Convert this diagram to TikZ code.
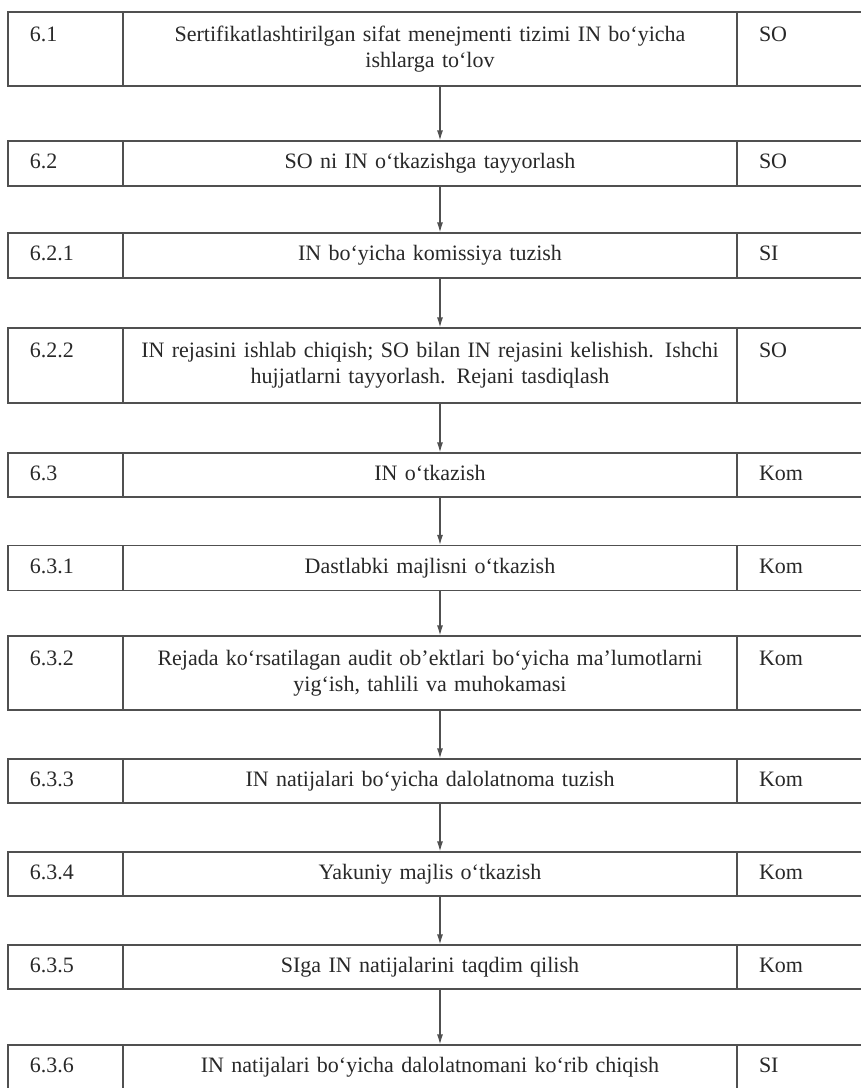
\documentclass[tikz,border=0pt]{standalone}
\usepackage{fontspec}
\setmainfont{Liberation Serif}
\usepackage{xcolor}
\usepackage{tikz}
\usetikzlibrary{arrows.meta}
\definecolor{rulegray}{RGB}{80,80,80}
\definecolor{inkgray}{RGB}{40,40,40}

\begin{document}
\begin{tikzpicture}[x=0.5pt, y=-0.5pt,
  cell/.style={rectangle, draw=rulegray, line width=0.6pt, inner ysep=0pt, text=inkgray, font=\fontsize{11}{13}\selectfont, execute at begin node=\strut, execute at end node=\strut},
  numcell/.style={cell, minimum width=57.5pt, text width=35.5pt, inner xsep=11pt, align=left},
  taskcell/.style={cell, minimum width=307pt, text width=295pt, inner xsep=6pt, align=center},
  whocell/.style={cell, minimum width=63pt, text width=41pt, inner xsep=10pt, align=left},
  flow/.style={-{Latex[length=5pt, width=3pt]}, draw=rulegray, line width=0.6pt}
]
\useasboundingbox (0,0) rectangle (861,1088);

\node[numcell, minimum height=37pt] (n61) at (65.5,49) {6.1\\};
\node[taskcell, minimum height=37pt] (s61) at (430,49) {Sertifikatlashtirilgan sifat menejmenti tizimi IN bo‘yicha\\ishlarga to‘lov};
\node[whocell, minimum height=37pt] (w61) at (800,49) {SO\\};

\node[numcell, minimum height=22.5pt] (n62) at (65.5,163.5) {6.2};
\node[taskcell, minimum height=22.5pt] (s62) at (430,163.5) {SO ni IN o‘tkazishga tayyorlash};
\node[whocell, minimum height=22.5pt] (w62) at (800,163.5) {SO};

\node[numcell, minimum height=22.5pt] (n621) at (65.5,255.5) {6.2.1};
\node[taskcell, minimum height=22.5pt] (s621) at (430,255.5) {IN bo‘yicha komissiya tuzish};
\node[whocell, minimum height=22.5pt] (w621) at (800,255.5) {SI};

\node[numcell, minimum height=37.5pt] (n622) at (65.5,365.5) {6.2.2\\};
\node[taskcell, minimum height=37.5pt] (s622) at (430,365.5) {IN rejasini ishlab chiqish; SO bilan IN rejasini kelishish. Ishchi\\hujjatlarni tayyorlash. Rejani tasdiqlash};
\node[whocell, minimum height=37.5pt] (w622) at (800,365.5) {SO\\};

\node[numcell, minimum height=22pt] (n63) at (65.5,475) {6.3};
\node[taskcell, minimum height=22pt] (s63) at (430,475) {IN o‘tkazish};
\node[whocell, minimum height=22pt] (w63) at (800,475) {Kom};

\node[numcell, minimum height=22.5pt] (n631) at (65.5,568) {6.3.1};
\node[taskcell, minimum height=22.5pt] (s631) at (430,568) {Dastlabki majlisni o‘tkazish};
\node[whocell, minimum height=22.5pt] (w631) at (800,568) {Kom};

\node[numcell, minimum height=37pt] (n632) at (65.5,673) {6.3.2\\};
\node[taskcell, minimum height=37pt] (s632) at (430,673) {Rejada ko‘rsatilagan audit ob’ektlari bo‘yicha ma’lumotlarni\\yig‘ish, tahlili va muhokamasi};
\node[whocell, minimum height=37pt] (w632) at (800,673) {Kom\\};

\node[numcell, minimum height=22pt] (n633) at (65.5,781) {6.3.3};
\node[taskcell, minimum height=22pt] (s633) at (430,781) {IN natijalari bo‘yicha dalolatnoma tuzish};
\node[whocell, minimum height=22pt] (w633) at (800,781) {Kom};

\node[numcell, minimum height=22pt] (n634) at (65.5,874) {6.3.4};
\node[taskcell, minimum height=22pt] (s634) at (430,874) {Yakuniy majlis o‘tkazish};
\node[whocell, minimum height=22pt] (w634) at (800,874) {Kom};

\node[numcell, minimum height=22pt] (n635) at (65.5,967) {6.3.5};
\node[taskcell, minimum height=22pt] (s635) at (430,967) {SIga IN natijalarini taqdim qilish};
\node[whocell, minimum height=22pt] (w635) at (800,967) {Kom};

\node[numcell, minimum height=22pt] (n636) at (65.5,1067) {6.3.6};
\node[taskcell, minimum height=22pt] (s636) at (430,1067) {IN natijalari bo‘yicha dalolatnomani ko‘rib chiqish};
\node[whocell, minimum height=22pt] (w636) at (800,1067) {SI};

% flow down the column
\draw[flow] ([xshift=5pt]s61.south) -- ([xshift=5pt]s62.north);
\draw[flow] ([xshift=5pt]s62.south) -- ([xshift=5pt]s621.north);
\draw[flow] ([xshift=5pt]s621.south) -- ([xshift=5pt]s622.north);
\draw[flow] ([xshift=5pt]s622.south) -- ([xshift=5pt]s63.north);
\draw[flow] ([xshift=5pt]s63.south) -- ([xshift=5pt]s631.north);
\draw[flow] ([xshift=5pt]s631.south) -- ([xshift=5pt]s632.north);
\draw[flow] ([xshift=5pt]s632.south) -- ([xshift=5pt]s633.north);
\draw[flow] ([xshift=5pt]s633.south) -- ([xshift=5pt]s634.north);
\draw[flow] ([xshift=5pt]s634.south) -- ([xshift=5pt]s635.north);
\draw[flow] ([xshift=5pt]s635.south) -- ([xshift=5pt]s636.north);
\end{tikzpicture}
\end{document}
